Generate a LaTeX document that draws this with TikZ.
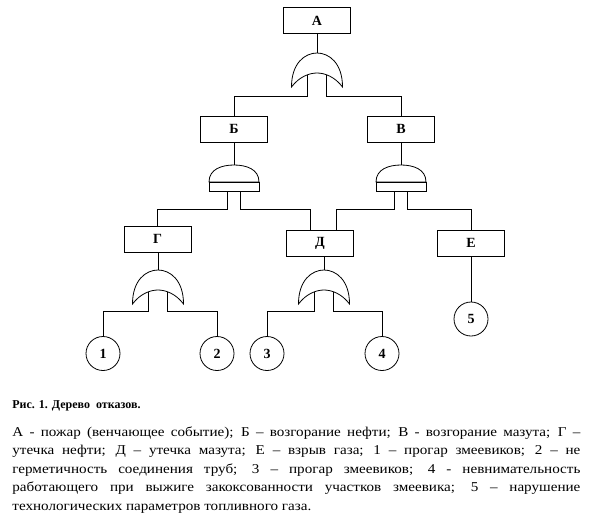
\documentclass[tikz,border=0pt]{standalone}
\usepackage{fontspec}
\setmainfont{Liberation Serif}
\newfontfamily\bodyfont[FakeStretch=1.12]{Liberation Serif}
\newcommand\orgateat[3]{%
  \draw[gate] ({#2-25.5},{#3+34}) .. controls ({#2-25.5},{#3+10}) and ({#2-12},{#3}) .. ({#2},{#3})
    .. controls ({#2+12},{#3}) and ({#2+25.5},{#3+10}) .. ({#2+25.5},{#3+34})
    .. controls ({#2+18},{#3+24}) and ({#2+8},{#3+20}) .. ({#2},{#3+20})
    .. controls ({#2-8},{#3+20}) and ({#2-18},{#3+24}) .. cycle;
  \coordinate (#1-out) at ({#2},{#3});
  \coordinate (#1-l) at ({#2-9.5},{#3+22});
  \coordinate (#1-r) at ({#2+9.5},{#3+22});
}
\newcommand\andgateat[3]{%
  \draw[gate] ({#2-25},{#3+17}) .. controls ({#2-25},{#3+4}) and ({#2-12},{#3}) .. ({#2},{#3})
    .. controls ({#2+12},{#3}) and ({#2+25},{#3+4}) .. ({#2+25},{#3+17}) -- cycle;
  \draw[gate] ({#2-25},{#3+17}) rectangle ({#2+25},{#3+26});
  \coordinate (#1-out) at ({#2},{#3});
  \coordinate (#1-l) at ({#2-6.5},{#3+26});
  \coordinate (#1-r) at ({#2+6.5},{#3+26});
}
\begin{document}
\begin{tikzpicture}[x=1pt,y=-1pt,
  every path/.style={line width=0.8pt},
  gate/.style={draw=black,fill=white,line width=0.8pt},
  event/.style={draw,rectangle,minimum width=67pt,minimum height=26pt,inner sep=0pt,
    font=\bfseries\fontsize{14}{14}\selectfont},
  basic/.style={draw,circle,minimum size=34pt,inner sep=0pt,
    font=\bfseries\fontsize{14}{14}\selectfont}]
\useasboundingbox (0,0) rectangle (591,522);
% events
\node[event] (A) at (317,20.5) {А};
\node[event] (B) at (234,129) {Б};
\node[event] (V) at (401,129) {В};
\node[event] (G) at (157.5,239) {Г};
\node[event] (D) at (320,243) {Д};
\node[event] (E) at (471,243) {Е};
\node[basic] (c1) at (103,353.5) {1};
\node[basic] (c2) at (217,353.5) {2};
\node[basic] (c3) at (267,353.5) {3};
\node[basic] (c4) at (382,353.5) {4};
\node[basic] (c5) at (471,319) {5};
% gates
\orgateat{gA}{317}{53}
\andgateat{gB}{234}{165}
\andgateat{gV}{401}{165}
\orgateat{gG}{158}{270}
\orgateat{gD}{324}{270}
% levels
\coordinate (lA) at (0,96);
\coordinate (lB) at (0,209);
\coordinate (lG) at (0,311);
% connectors
\draw (A.south) -- (gA-out);
\draw (gA-l) -- (gA-l |- lA) -| (B.north);
\draw (gA-r) -- (gA-r |- lA) -| (V.north);
\draw (B.south) -- (gB-out);
\draw (V.south) -- (gV-out);
\draw (gB-l) -- (gB-l |- lB) -| (G.north);
\draw (gB-r) -- (gB-r |- lB) -| ([xshift=-10pt]D.north);
\draw (gV-l) -- (gV-l |- lB) -| ([xshift=16pt]D.north);
\draw (gV-r) -- (gV-r |- lB) -| (E.north);
\draw (G.south -| gG-out) -- (gG-out);
\draw (gD-out |- D.south) -- (gD-out);
\draw (gG-l) -- (gG-l |- lG) -| (c1.north);
\draw (gG-r) -- (gG-r |- lG) -| (c2.north);
\draw (gD-l) -- (gD-l |- lG) -| (c3.north);
\draw (gD-r) -- (gD-r |- lG) -| (c4.north);
\draw (E.south) -- (c5.north);
% caption
\node[anchor=base west,inner sep=0pt,font=\bfseries\fontsize{12}{12}\selectfont] (cap) at (12,408) {Рис. 1. Дерево \ отказов.};
\node[anchor=north west,inner sep=0pt,text width=568pt,align=justify,
  font=\bodyfont\fontsize{13.5}{18.5}\selectfont] (txt) at (12,423)
  {\strut А - пожар (венчающее событие); Б – возгорание нефти; В - возгорание мазута; Г~–\linebreak
   утечка нефти; Д – утечка мазута; Е – взрыв газа; 1 – прогар змеевиков; 2 – не\linebreak
   герметичность соединения труб; 3 – прогар змеевиков; 4 - невнимательность\linebreak
   работающего при выжиге закоксованности участков змеевика; 5 – нарушение\linebreak
   технологических параметров топливного газа.};
\end{tikzpicture}
\end{document}
